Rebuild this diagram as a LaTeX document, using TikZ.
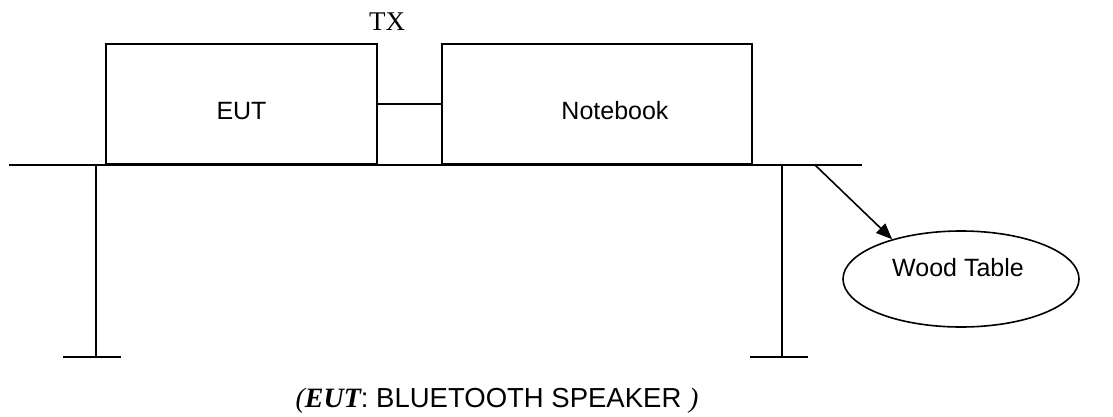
\documentclass[tikz,border=0pt]{standalone}
\usepackage{fontspec}
\setmainfont{Liberation Serif}
\setsansfont{Liberation Sans}
\usetikzlibrary{arrows.meta,shapes.geometric}
\tikzset{
  ln/.style={line width=1.6pt},
  boxnode/.style={draw,ln,rectangle,inner sep=0pt,minimum height=120pt},
  lbl/.style={font=\sffamily\fontsize{25}{30}\selectfont},
}
\begin{document}
\begin{tikzpicture}[x=1pt,y=-1pt]
\useasboundingbox (0,0) rectangle (1113,417);
% boxes
\node[boxnode,minimum width=271pt,label={[lbl,yshift=-7pt]center:EUT}] (eut) at (241.5,104) {};
\node[boxnode,minimum width=310pt,label={[lbl,xshift=18pt,yshift=-7pt]center:Notebook}] (nb) at (597,104) {};
\draw[ln] (eut.east) -- (nb.west);
\node[font=\rmfamily\fontsize{27}{32}\selectfont] (tx) at (387,22) {TX};
% table
\coordinate (tl) at (9,165);
\coordinate (tr) at (862,165);
\draw[line width=2pt] (tl) -- (tr);
\coordinate (l1) at (96,165);
\coordinate (l2) at (96,357);
\coordinate (r1) at (782,165);
\coordinate (r2) at (782,357);
\draw[ln] (l1) -- (l2);
\draw[ln] (r1) -- (r2);
\draw[line width=2pt] ([xshift=-33pt]l2) -- ([xshift=25pt]l2);
\draw[line width=2pt] ([xshift=-32pt]r2) -- ([xshift=26pt]r2);
% wood table
\node[draw,ln,ellipse,minimum width=236pt,minimum height=96pt,inner sep=0pt,
      label={[lbl,xshift=-3pt,yshift=11pt]center:Wood Table}] (wood) at (961,279) {};
\coordinate (ap) at (815,165);
\draw[ln,-{Triangle[length=16pt,width=13pt]}] (ap) -- (wood.150);
% caption
\node[font=\fontsize{28}{32}\selectfont] (cap) at (497,401)
  {{\rmfamily\itshape(}{\rmfamily\bfseries\itshape EUT}{\sffamily\fontsize{27.5}{32}\selectfont: BLUETOOTH SPEAKER }{\rmfamily\itshape)}};
\end{tikzpicture}
\end{document}
